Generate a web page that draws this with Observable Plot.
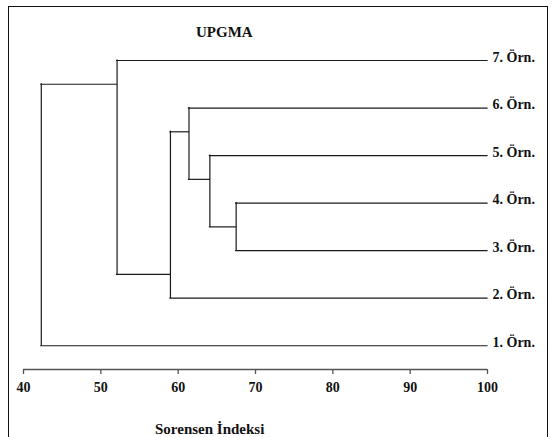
<!DOCTYPE html>
<html>
<head>
<meta charset="utf-8">
<script src="https://cdn.jsdelivr.net/npm/d3@7"></script>
<script src="https://cdn.jsdelivr.net/npm/@observablehq/plot@0.6"></script>
<style>
  html, body { margin: 0; padding: 0; background: #fff; }
  #wrap { position: relative; width: 555px; height: 437px; overflow: hidden; font-family: "Liberation Serif", "Times New Roman", serif; }
  #border { position: absolute; left: 8px; top: 6px; width: 540px; height: 520px; border: 1.5px solid #111; border-bottom: none; box-sizing: border-box; }
  #title { position: absolute; left: 196px; top: 25px; font-size: 15px; line-height: 15px; font-weight: bold; color: #111; }
  #xlabel { position: absolute; left: 155px; top: 422px; font-size: 15px; line-height: 15px; font-weight: bold; color: #111; white-space: nowrap; }
  #chart { position: absolute; left: 0; top: 0; }
</style>
</head>
<body>
<div id="wrap">
  <div id="chart"></div>
  <div id="border"></div>
  <div id="title">UPGMA</div>
  <div id="xlabel">Sorensen İndeksi</div>
</div>
<script>
// Leaves, top to bottom
const leafLabels = ["7. Örn.", "6. Örn.", "5. Örn.", "4. Örn.", "3. Örn.", "2. Örn.", "1. Örn."];
const leafPos = [0, 1, 2, 3, 4, 5, 6];
// similarity of the node each leaf joins
const leafParentSim = [52.1, 61.4, 64.1, 67.5, 67.5, 59.0, 42.3];

// Internal nodes (similarity level)
const nodeSim = [67.5, 64.1, 61.4, 59.0, 52.1, 42.3];
const nodeY = [3.5, 2.5, 1.5, 4.5, 0.5, null];
const nodeSpanTop = [3, 2, 1, 1.5, 0, 0.5];
const nodeSpanBottom = [4, 3.5, 2.5, 5, 4.5, 6];
const nodeParentSim = [64.1, 61.4, 59.0, 52.1, 42.3, null];

// Axis
const xDomain = [40, 100];
const xTicks = [40, 50, 60, 70, 80, 90, 100];
const yDomain = [0, 6.5];

const lineColor = "#1a1a1a";
const leafIdx = d3.range(leafLabels.length);
const nodeIdx = d3.range(nodeSim.length);
const branchIdx = nodeIdx.filter(i => nodeParentSim[i] != null);

const chart = Plot.plot({
  width: 555,
  height: 437,
  marginLeft: 23,
  marginRight: 68,
  marginTop: 60,
  marginBottom: 68,
  style: { fontFamily: "'Liberation Serif', 'Times New Roman', serif", fontWeight: "bold", fontSize: "14px", color: "#111", background: "transparent" },
  x: { domain: xDomain, axis: null },
  y: { domain: yDomain, reverse: true, axis: null },
  marks: [
    // axis baseline
    Plot.ruleY([yDomain[1]], { x1: xDomain[0], x2: xDomain[1], stroke: "#555", strokeWidth: 1.3 }),
    Plot.axisX({ ticks: xTicks, tickFormat: d => String(d), tickSize: 5, tickPadding: 8, stroke: "#555", strokeWidth: 1.3, fill: "#111", label: null, fontSize: 14, fontWeight: "bold" }),
    // leaf branches
    Plot.ruleY(leafIdx, { y: i => leafPos[i], x1: i => leafParentSim[i], x2: xDomain[1], stroke: lineColor, strokeWidth: 1.2, strokeLinecap: "square" }),
    // internal horizontal branches
    Plot.ruleY(branchIdx, { y: i => nodeY[i], x1: i => nodeParentSim[i], x2: i => nodeSim[i], stroke: lineColor, strokeWidth: 1.2, strokeLinecap: "square" }),
    // node verticals
    Plot.ruleX(nodeIdx, { x: i => nodeSim[i], y1: i => nodeSpanTop[i], y2: i => nodeSpanBottom[i], stroke: lineColor, strokeWidth: 1.2, strokeLinecap: "square" }),
    // leaf labels
    Plot.text(leafIdx, { x: xDomain[1], y: i => leafPos[i], text: i => leafLabels[i], textAnchor: "start", lineAnchor: "bottom", dx: 5, dy: 1, fontSize: 14, fontWeight: "bold", fill: "#111" })
  ]
});
document.getElementById("chart").appendChild(chart);
</script>
</body>
</html>
